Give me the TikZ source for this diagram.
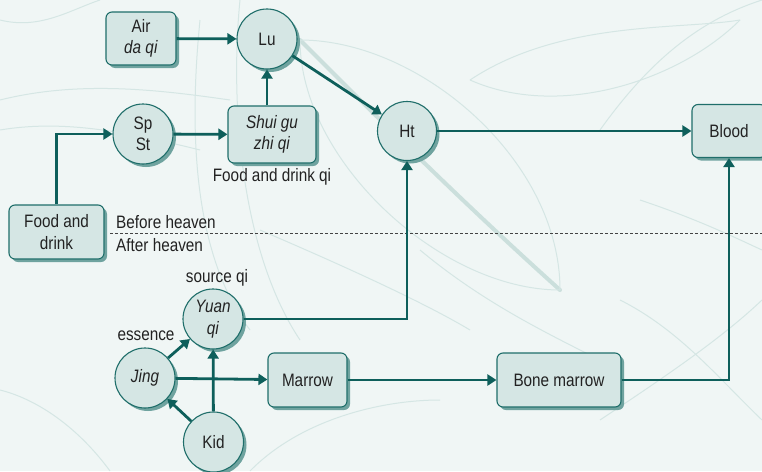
\documentclass[tikz,border=0pt]{standalone}
\usepackage{fontspec}
\setmainfont[FakeStretch=0.85]{Liberation Sans}
\usetikzlibrary{arrows.meta,shadows}

\definecolor{paper}{HTML}{F0F6F5}
\definecolor{vein}{HTML}{D5E6E4}
\definecolor{veindark}{HTML}{CBDFDC}
\definecolor{nodefill}{HTML}{D5E6E4}
\definecolor{nodeline}{HTML}{1F6E6A}
\definecolor{shade}{HTML}{6FA39F}
\definecolor{flow}{HTML}{0E5F5B}
\definecolor{ink}{HTML}{222222}

\tikzset{
  every node/.style={text=ink, font=\fontsize{18}{21.5}\selectfont},
  base/.style={draw=nodeline, fill=nodefill, line width=1.1pt, align=center, inner sep=0pt,
    drop shadow={shadow xshift=3pt, shadow yshift=-3pt, fill=shade, opacity=1}},
  box/.style={base, rectangle, rounded corners=6pt},
  circ/.style={base, circle, minimum size=60pt},
  arr/.style={draw=flow, line width=2.8pt, -{Triangle[length=9pt,width=11pt]}},
  lbl/.style={inner sep=1pt},
  leaf/.style={draw=vein, line width=1pt},
  rib/.style={draw=veindark, line width=4pt, line cap=round},
}

\begin{document}
\begin{tikzpicture}[x=1pt,y=-1pt]
  % page and a faint skeleton-leaf backdrop
  \fill[paper] (0,0) rectangle (762,471);
  \useasboundingbox (0,0) rectangle (762,471);
  \begin{scope}
    \clip (0,0) rectangle (762,471);
    \draw[rib] (300,40) .. controls (380,120) and (460,200) .. (560,290);
    \draw[leaf] (300,40) .. controls (420,40) and (560,160) .. (560,290);
    \draw[leaf] (300,40) .. controls (300,160) and (440,290) .. (560,290);
    \draw[leaf] (470,80) .. controls (560,20) and (680,30) .. (740,20);
    \draw[leaf] (470,80) .. controls (560,120) and (680,80) .. (740,20);
    \draw[leaf] (600,130) .. controls (650,60) and (700,20) .. (762,0);
    \draw[leaf] (0,100) .. controls (80,80) and (160,90) .. (230,100);
    \draw[leaf] (0,130) .. controls (60,120) and (120,130) .. (200,150);
    \draw[leaf] (200,20) .. controls (190,120) and (190,250) .. (250,330);
    \draw[leaf] (240,0) .. controls (230,100) and (240,250) .. (300,340);
    \draw[leaf] (260,230) .. controls (330,260) and (420,300) .. (470,330);
    \draw[leaf] (420,250) .. controls (480,300) and (540,330) .. (600,360);
    \draw[leaf] (620,300) .. controls (680,330) and (720,380) .. (762,420);
    \draw[leaf] (600,420) .. controls (660,380) and (720,340) .. (762,300);
    \draw[leaf] (0,390) .. controls (40,400) and (80,430) .. (110,471);
    \draw[leaf] (250,471) .. controls (300,420) and (380,400) .. (440,400);
    \draw[leaf] (640,200) .. controls (700,220) and (740,240) .. (762,250);
    \draw[leaf] (0,20) .. controls (40,30) and (70,10) .. (100,0);
  \end{scope}

  % boundary between the two heavens
  \draw[ink!85, line width=0.8pt, dash pattern=on 3pt off 2pt] (110,233) -- (762,233);
  \node[lbl, anchor=west] (before) at (115,222) {Before heaven};
  \node[lbl, anchor=west] (after) at (115,245) {After heaven};

  % nodes
  \node[box, minimum width=70pt, minimum height=53pt] (air) at (141,38.5) {Air\\\textit{da qi}};
  \node[circ] (lu) at (267,39) {Lu};
  \node[circ] (spst) at (143,134) {Sp\\St};
  \node[box, minimum width=88pt, minimum height=57pt] (shui) at (272,134.5) {\textit{Shui gu}\\\textit{zhi qi}};
  \node[lbl] (fdq) at (272,177) {Food and drink qi};
  \node[circ, minimum size=59pt] (ht) at (407,131) {Ht};
  \node[box, minimum width=74pt, minimum height=53pt] (blood) at (729,131) {Blood};
  \node[box, minimum width=95pt, minimum height=54pt] (food) at (56.5,232) {Food and\\drink};
  \node[circ] (yuan) at (213,319) {\textit{Yuan}\\\textit{qi}};
  \node[lbl] (source) at (217,278) {source qi};
  \node[circ] (jing) at (145,378) {\textit{Jing}};
  \node[lbl] (essence) at (146,336) {essence};
  \node[circ] (kid) at (213.5,442) {Kid};
  \node[box, minimum width=79pt, minimum height=54pt] (marrow) at (307.5,380) {Marrow};
  \node[box, minimum width=124pt, minimum height=54pt] (bone) at (559,380) {Bone marrow};

  % connectors
  \draw[arr] (air) -- (lu);
  \draw[arr] (lu) -- (ht);
  \draw[arr] (shui.north -| lu) -- (lu);
  \draw[arr] (spst) -- (shui);
  \draw[arr] (food.north) |- (spst);
  \draw[arr] (ht) -- (blood);
  \draw[arr] (yuan) -| (ht);
  \draw[arr] (jing) -- (yuan);
  \draw[arr] (jing) -- (marrow);
  \draw[arr] (kid) -- (yuan);
  \draw[arr] (kid) -- (jing);
  \draw[arr] (marrow) -- (bone);
  \draw[arr] (bone) -| (blood);
\end{tikzpicture}
\end{document}
